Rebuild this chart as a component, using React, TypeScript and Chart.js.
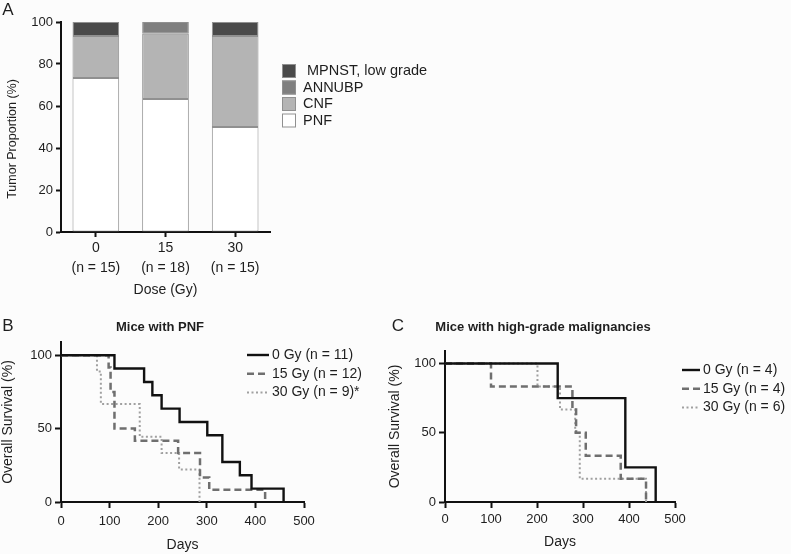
import React, { useEffect, useRef } from 'react';
import { Chart, registerables } from 'chart.js';

Chart.register(...registerables);

const FONT = '"Liberation Sans", Arial, Helvetica, sans-serif';
const TEXT = '#1e1e1e';
const AXIS = '#111';

// ---------- Panel A: tumor proportion ----------
const doseCategories = [['0', '(n = 15)'], ['15', '(n = 18)'], ['30', '(n = 15)']];
const tumorTypes = ['PNF', 'CNF', 'ANNUBP', 'MPNST, low grade'];
const pnfValues = [73.3, 63.3, 50];
const cnfValues = [20, 31.1, 43.3];
const annubpValues = [null, 5.6, null];
const mpnstValues = [6.7, null, 6.7];
const tumorColors = ['#ffffff', '#b4b4b4', '#7f7f7f', '#4a4a4a'];

// ---------- Panel B: Mice with PNF ----------
const pnfSeriesLabels = ['0 Gy (n = 11)', '15 Gy (n = 12)', '30 Gy (n = 9)*'];
const pnf0Days = [0, 110, 171, 188, 207, 244, 301, 332, 368, 392, 458];
const pnf0Surv = [100, 90.9, 81.8, 72.7, 63.6, 54.5, 45.5, 27.3, 18.2, 9.1, 0];
const pnf15Days = [0, 98, 102, 110, 152, 241, 286, 305, 420];
const pnf15Surv = [100, 91.7, 75, 50, 41.7, 33.3, 16.7, 8.3, 0];
const pnf30Days = [0, 74, 82, 162, 207, 243, 285];
const pnf30Surv = [100, 88.9, 66.7, 44.4, 33.3, 22.2, 0];

// ---------- Panel C: high-grade malignancies ----------
const hgSeriesLabels = ['0 Gy (n = 4)', '15 Gy (n = 4)', '30 Gy (n = 6)'];
const hg0Days = [0, 245, 392, 458];
const hg0Surv = [100, 75, 25, 0];
const hg15Days = [0, 100, 277, 285, 306, 382, 437];
const hg15Surv = [100, 83.3, 66.7, 50, 33.3, 16.7, 0];
const hg30Days = [0, 201, 250, 283, 293, 437];
const hg30Surv = [100, 83.3, 66.7, 50, 16.7, 0];

const survivalTicks = [0, 50, 100];
const dayTicks = [0, 100, 200, 300, 400, 500];

type TextItem = { text: string; x: number; y: number; size: number; bold?: boolean; rotate?: number; align?: CanvasTextAlign };
type LegendSpec = { kind: 'box' | 'line'; order: number[]; x: number; y: number; gap: number; sample: number; textX: number; size: number; firstShift?: number };

function makeDecor(texts: TextItem[], legend?: LegendSpec) {
  return {
    id: 'decor',
    afterDraw(chart: any) {
      const ctx = chart.ctx as CanvasRenderingContext2D;
      ctx.save();
      for (const t of texts) {
        ctx.save();
        ctx.font = `${t.bold ? 'bold ' : ''}${t.size}px ${FONT}`;
        ctx.fillStyle = TEXT;
        ctx.textAlign = t.align || 'center';
        ctx.textBaseline = 'middle';
        ctx.translate(t.x, t.y);
        if (t.rotate) ctx.rotate(t.rotate);
        ctx.fillText(t.text, 0, 0);
        ctx.restore();
      }
      if (legend) {
        legend.order.forEach((di, row) => {
          const ds = chart.data.datasets[di];
          const cy = legend.y + row * legend.gap;
          if (legend.kind === 'box') {
            ctx.fillStyle = ds.backgroundColor;
            ctx.fillRect(legend.x, cy - 7, 14, 14);
            ctx.strokeStyle = ds.borderColor;
            ctx.lineWidth = 1;
            ctx.strokeRect(legend.x + 0.5, cy - 6.5, 13, 13);
          } else {
            ctx.strokeStyle = ds.borderColor;
            ctx.lineWidth = ds.borderWidth;
            ctx.setLineDash(ds.borderDash || []);
            ctx.beginPath();
            ctx.moveTo(legend.x, cy);
            ctx.lineTo(legend.x + legend.sample, cy);
            ctx.stroke();
            ctx.setLineDash([]);
          }
          ctx.fillStyle = TEXT;
          ctx.font = `${legend.size}px ${FONT}`;
          ctx.textAlign = 'left';
          ctx.textBaseline = 'middle';
          const shift = row === 0 && legend.firstShift ? legend.firstShift : 0;
          ctx.fillText(ds.label, legend.textX + shift, cy);
        });
      }
      ctx.restore();
    },
  };
}

const pts = (xs: number[], ys: number[]) => xs.map((x, i) => ({ x, y: ys[i] }));

const lineStyles = [
  { borderColor: '#111111', borderWidth: 2.4, borderDash: [] as number[] },
  { borderColor: '#6f6f6f', borderWidth: 2.5, borderDash: [7, 4] },
  { borderColor: '#a0a0a0', borderWidth: 2, borderDash: [2, 2.5] },
];

function axisCommon(tickSize: number, tickLen: number, pad: number) {
  return {
    ticks: { font: { size: tickSize, family: FONT }, color: TEXT, padding: pad },
    grid: { display: true, drawOnChartArea: false, drawTicks: true, tickLength: tickLen, tickWidth: 2, tickColor: AXIS },
    border: { display: true, color: AXIS, width: 2 },
  };
}

function survivalConfig(labels: string[], series: { x: number; y: number }[][], o: any) {
  return {
    type: 'line',
    data: {
      datasets: series.map((d, i) => ({
        label: labels[i],
        data: d,
        stepped: 'before',
        fill: false,
        pointRadius: 0,
        ...lineStyles[i],
      })),
    },
    options: {
      animation: false,
      responsive: false,
      events: [],
      layout: { padding: { left: 0, top: o.top, right: o.right, bottom: 0 } },
      plugins: { legend: { display: false }, tooltip: { enabled: false } },
      scales: {
        x: {
          type: 'linear',
          min: dayTicks[0],
          max: dayTicks[dayTicks.length - 1],
          afterFit: (s: any) => { s.height = o.xHeight; },
          afterBuildTicks: (s: any) => { s.ticks = dayTicks.map((v) => ({ value: v })); },
          ...axisCommon(13, 6, o.xPad),
          title: { display: true, text: 'Days', font: { size: 14, family: FONT }, color: TEXT, padding: { top: 0, bottom: o.titlePad } },
        },
        y: {
          type: 'linear',
          min: 0,
          max: 109,
          afterFit: (s: any) => { s.width = o.yWidth; },
          afterBuildTicks: (s: any) => { s.ticks = survivalTicks.map((v) => ({ value: v })); },
          ...axisCommon(13, 6, 3),
          title: { display: true, text: 'Overall Survival (%)', font: { size: 14, family: FONT }, color: TEXT, padding: { top: o.yTitlePad, bottom: 0 } },
        },
      },
    },
    plugins: [makeDecor(o.texts, o.legend)],
  };
}

const configA: any = {
  type: 'bar',
  data: {
    labels: doseCategories,
    datasets: [pnfValues, cnfValues, annubpValues, mpnstValues].map((vals, i) => ({
      label: tumorTypes[i],
      data: vals,
      backgroundColor: tumorColors[i],
      borderColor: '#909090',
      borderWidth: 1,
      borderSkipped: false,
      barPercentage: 0.67,
      categoryPercentage: 1,
    })),
  },
  options: {
    animation: false,
    responsive: false,
    events: [],
    layout: { padding: { left: 0, top: 22, right: 190, bottom: 0 } },
    plugins: { legend: { display: false }, tooltip: { enabled: false } },
    scales: {
      x: {
        stacked: true,
        offset: true,
        afterFit: (s: any) => { s.height = 73; },
        ...axisCommon(14, 5, 1),
        ticks: { font: { size: 14, family: FONT, lineHeight: 20 / 14 }, color: TEXT, padding: 1 },
        grid: { display: true, offset: false, drawOnChartArea: false, drawTicks: true, tickLength: 5, tickWidth: 2, tickColor: AXIS },
        title: { display: true, text: 'Dose (Gy)', font: { size: 14, family: FONT }, color: TEXT, padding: { top: 0, bottom: 6 } },
      },
      y: {
        stacked: true,
        min: 0,
        max: 100,
        afterFit: (s: any) => { s.width = 61; },
        ...axisCommon(13, 5, 3),
        ticks: { stepSize: 20, font: { size: 13, family: FONT }, color: TEXT, padding: 3 },
      },
    },
  },
  plugins: [
    makeDecor(
      [
        { text: 'A', x: 8, y: 10, size: 17 },
        { text: 'Tumor Proportion (%)', x: 13, y: 139, size: 12.5, rotate: -Math.PI / 2 },
      ],
      { kind: 'box', order: [3, 2, 1, 0], x: 282, y: 71, gap: 16.5, sample: 14, textX: 303, size: 14.5, firstShift: 4 }
    ),
  ],
};

const configB: any = survivalConfig(
  pnfSeriesLabels,
  [pts(pnf0Days, pnf0Surv), pts(pnf15Days, pnf15Surv), pts(pnf30Days, pnf30Surv)],
  {
    top: 37,
    right: 91,
    xHeight: 52,
    yWidth: 61,
    xPad: 6,
    titlePad: 0,
    yTitlePad: 0,
    texts: [
      { text: 'B', x: 8, y: 21, size: 17 },
      { text: 'Mice with PNF', x: 160, y: 22, size: 13, bold: true },
    ],
    legend: { kind: 'line', order: [0, 1, 2], x: 247, y: 50, gap: 18.8, sample: 22, textX: 272, size: 14 },
  }
);

const configC: any = survivalConfig(
  hgSeriesLabels,
  [pts(hg0Days, hg0Surv), pts(hg15Days, hg15Surv), pts(hg30Days, hg30Surv)],
  {
    top: 46,
    right: 116,
    xHeight: 52,
    yWidth: 60,
    xPad: 3.5,
    titlePad: 3,
    yTitlePad: 2,
    texts: [
      { text: 'C', x: 13, y: 21, size: 17 },
      { text: 'Mice with high-grade malignancies', x: 158, y: 22, size: 13, bold: true },
    ],
    legend: { kind: 'line', order: [0, 1, 2], x: 297, y: 65, gap: 18.8, sample: 18, textX: 318, size: 14 },
  }
);

function ChartCanvas({ config, left, top, width, height }: { config: any; left: number; top: number; width: number; height: number }) {
  const ref = useRef<HTMLCanvasElement>(null);
  useEffect(() => {
    const chart = new Chart(ref.current as HTMLCanvasElement, config);
    return () => chart.destroy();
  }, [config]);
  return (
    <div style={{ position: 'absolute', left, top, width, height }}>
      <canvas ref={ref} width={width} height={height} style={{ width, height, display: 'block' }} />
    </div>
  );
}

export default function App() {
  return (
    <div style={{ position: 'absolute', left: 0, top: 0, width: 791, height: 554, background: '#fcfcfc', overflow: 'hidden', fontFamily: FONT }}>
      <ChartCanvas config={configA} left={0} top={0} width={460} height={305} />
      <ChartCanvas config={configB} left={0} top={305} width={395} height={249} />
      <ChartCanvas config={configC} left={385} top={305} width={406} height={249} />
    </div>
  );
}
